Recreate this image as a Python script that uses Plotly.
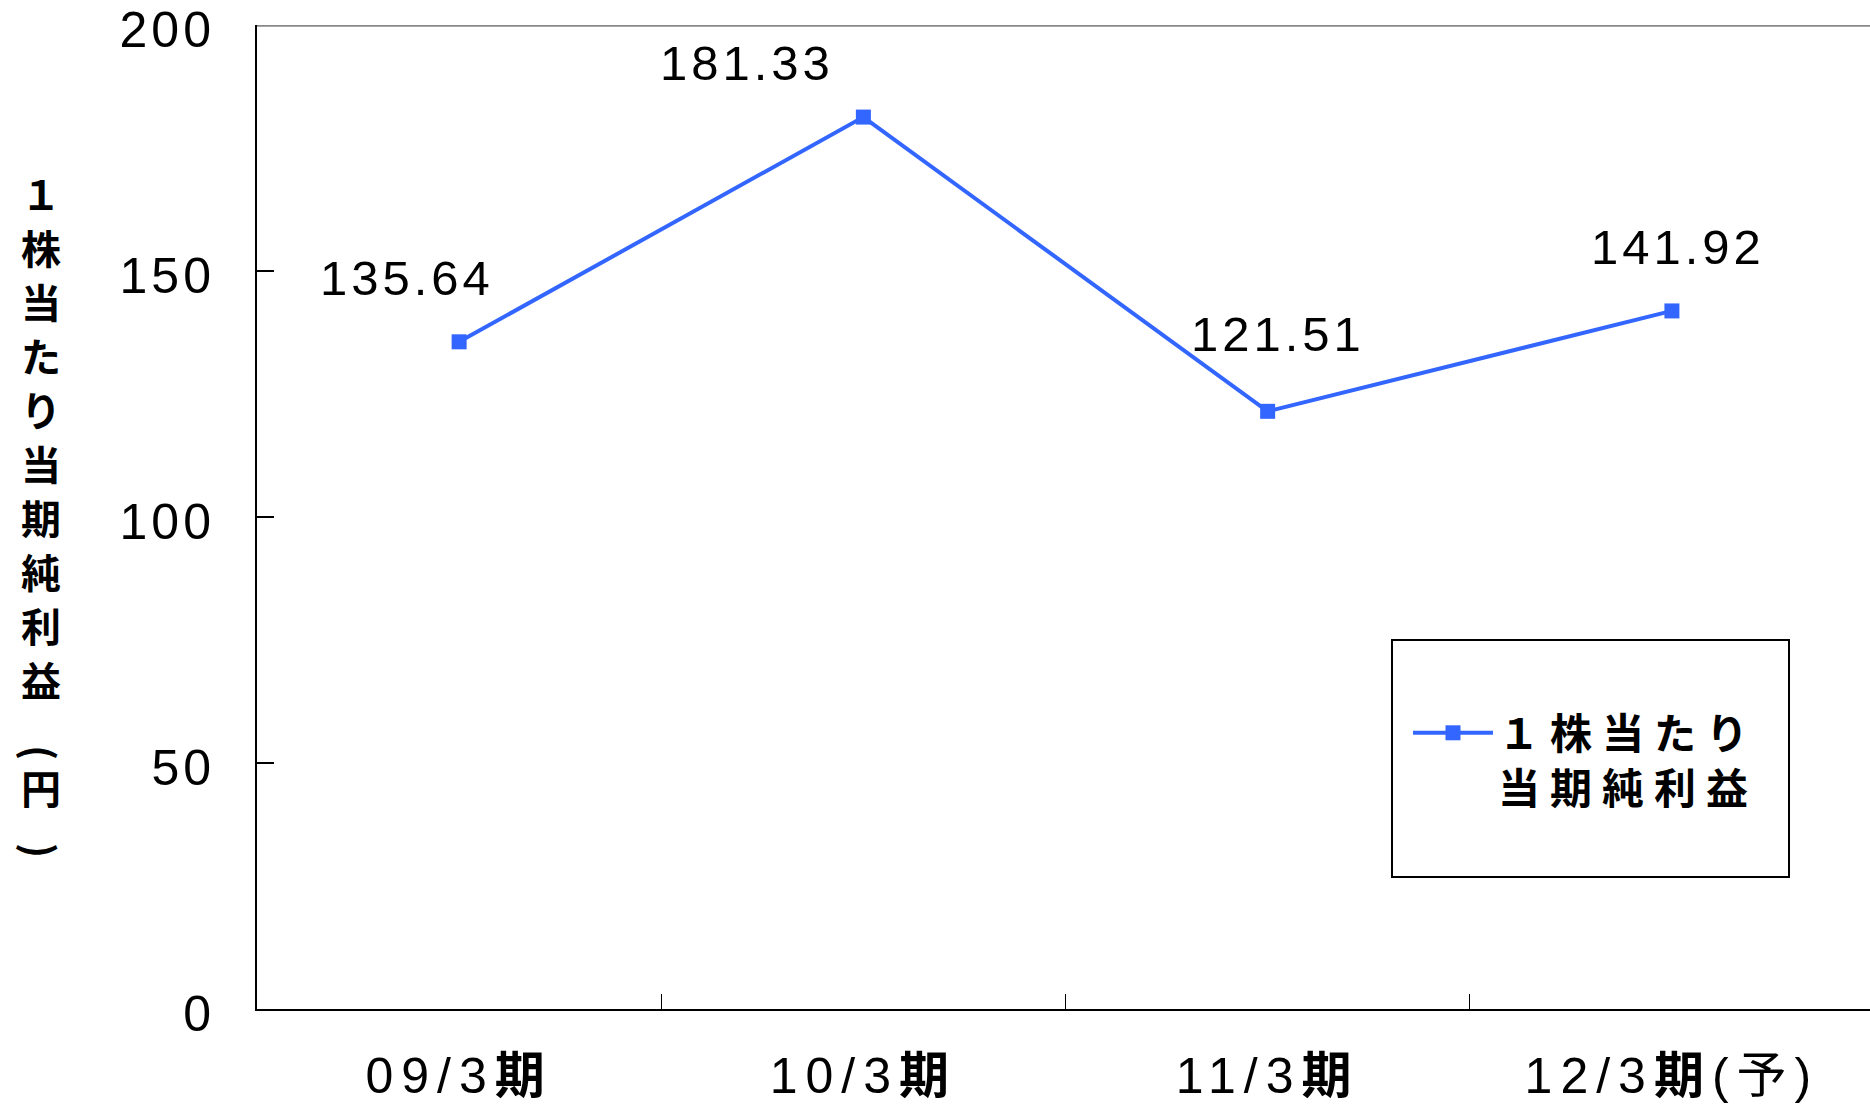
import plotly.graph_objects as go

# ---- data ----
categories = ["09/3期", "10/3期", "11/3期", "12/3期(予)"]
eps = [135.64, 181.33, 121.51, 141.92]
label_texts = ["135.64", "181.33", "121.51", "141.92"]
series_name = "１株当たり<br>当期純利益"
y_title_chars = ["１", "株", "当", "た", "り", "当", "期", "純", "利", "益", "(", "円", ")"]
y_ticks = [0, 50, 100, 150, 200]

# ---- layout constants (pixels) ----
W, H = 1870, 1107
ML, MR, MT, MB = 257, 0, 25, 98
PW = W - ML - MR
PH = H - MT - MB

def px_to_paper_x(px):
    return (px - ML) / PW

def px_to_paper_y(py):
    return (H - MB - py) / PH

BLUE = "#3366FF"
FONT = "Liberation Sans, Arial, Noto Sans CJK JP"
CJK = "Noto Sans CJK JP, Liberation Sans"

fig = go.Figure()
fig.add_trace(go.Scatter(
    x=categories, y=eps, mode="lines+markers", name=series_name,
    line=dict(color=BLUE, width=4),
    marker=dict(symbol="square", size=15, color=BLUE),
))

# data labels (offsets in px relative to the point)
label_offsets = [(-52, 64), (-116, 54), (10, 77), (6, 64)]
for c, v, t, (dx, dy) in zip(categories, eps, label_texts, label_offsets):
    fig.add_annotation(x=c, y=v, text=t, showarrow=False, xshift=dx, yshift=dy,
                       xanchor="center", yanchor="middle",
                       font=dict(family=FONT, size=49, color="black"))

# vertical y-axis title, one character per line
title_y_px = [193, 247, 301, 355, 409, 463, 517, 571, 625, 679, 752, 787, 850]
for ch, ypx in zip(y_title_chars, title_y_px):
    rot = 90 if ch in "()" else 0
    fig.add_annotation(x=px_to_paper_x(41), y=px_to_paper_y(ypx), xref="paper", yref="paper",
                       text=ch, showarrow=False, xanchor="center", yanchor="middle",
                       textangle=rot,
                       font=dict(family=CJK, size=40, color="black", weight="bold"))

# top frame line (grey)
fig.add_shape(type="line", xref="paper", yref="y", x0=0, x1=1, y0=200, y1=200,
              line=dict(color="#888888", width=3), layer="below")
# legend box
fig.add_shape(type="rect", xref="paper", yref="paper",
              x0=px_to_paper_x(1392), x1=px_to_paper_x(1789),
              y0=px_to_paper_y(877), y1=px_to_paper_y(640),
              line=dict(color="black", width=2), fillcolor="rgba(0,0,0,0)")

tick_text = [c.replace("期", "<b>期</b>") for c in categories]

fig.update_layout(
    width=W, height=H,
    margin=dict(l=ML, r=MR, t=MT, b=MB),
    paper_bgcolor="white", plot_bgcolor="white",
    showlegend=True,
    legend=dict(x=px_to_paper_x(1408), y=px_to_paper_y(699), xanchor="left", yanchor="top",
                bgcolor="rgba(0,0,0,0)", borderwidth=0, itemwidth=80, valign="top",
                font=dict(family=CJK, size=42, color="black", weight="bold")),
    xaxis=dict(type="category", range=[-0.5, 3.49], tickson="boundaries",
               tickmode="array", tickvals=categories, ticktext=tick_text,
               ticks="inside", ticklen=15, tickwidth=1, tickcolor="black",
               showline=True, linecolor="black", linewidth=2, automargin=False,
               showgrid=False, zeroline=False, ticklabelstandoff=22,
               tickfont=dict(family=FONT, size=50, color="black")),
    yaxis=dict(range=[0, 200.05], tickvals=y_ticks, ticks="inside", ticklen=17, tickwidth=2,
               tickcolor="black", showline=True, linecolor="black", linewidth=2,
               automargin=False, ticklabeloverflow="allow", ticklabelshift=4,
               showgrid=False, zeroline=False, ticklabelstandoff=30,
               tickfont=dict(family=FONT, size=50, color="black")),
)

post = """
var gd = document.getElementById('{plot_id}');
function ls(sel, v){ gd.querySelectorAll(sel).forEach(function(t){ t.style.letterSpacing = v; }); }
ls('.ytick text', '4px');
ls('.xtick text', '8px');
ls('.legendtext', '10px');
gd.querySelectorAll('.legend [clip-path]').forEach(function(e){ e.removeAttribute('clip-path'); });
gd.querySelectorAll('.annotation').forEach(function(a, i){
  if (i < 4) { a.querySelectorAll('.annotation-text').forEach(function(t){ t.style.letterSpacing = '4px'; }); }
});
"""

fig.write_html("out.html", post_script=post)
